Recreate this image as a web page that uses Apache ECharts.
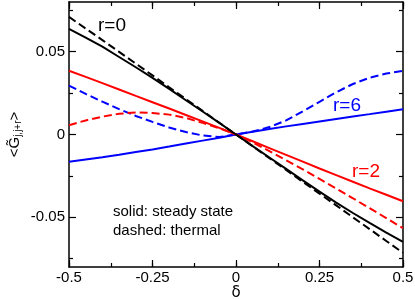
<!DOCTYPE html>
<html>
<head>
<meta charset="utf-8">
<script src="https://cdn.jsdelivr.net/npm/echarts@6/dist/echarts.min.js"></script>
<style>html,body{margin:0;padding:0;background:#fff;}#c{width:415px;height:299px;}</style>
</head>
<body>
<div id="c"></div>
<script>
var deltas = [-0.5,-0.45,-0.4,-0.35,-0.3,-0.25,-0.2,-0.15,-0.1,-0.05,0,0.05,0.1,0.15,0.2,0.25,0.3,0.35,0.4,0.45,0.5];
var r0Steady = [0.0638,0.0585,0.0530,0.0468,0.0406,0.0342,0.0275,0.0207,0.0139,0.0070,0,-0.0070,-0.0139,-0.0208,-0.0277,-0.0345,-0.0411,-0.0474,-0.0534,-0.0592,-0.0648];
var r0Thermal = [0.0710,0.0640,0.0570,0.0499,0.0428,0.0357,0.0285,0.0214,0.0143,0.0071,0,-0.0071,-0.0143,-0.0214,-0.0286,-0.0357,-0.0428,-0.0500,-0.0571,-0.0643,-0.0714];
var r2Steady = [0.0385,0.0348,0.0310,0.0272,0.0233,0.0195,0.0157,0.0118,0.0079,0.0040,0,-0.0041,-0.0082,-0.0123,-0.0164,-0.0205,-0.0245,-0.0285,-0.0325,-0.0364,-0.0403];
var r2Thermal = [0.0056,0.0085,0.0108,0.0125,0.0133,0.0130,0.0120,0.0100,0.0070,0.0038,0,-0.0048,-0.0100,-0.0155,-0.0210,-0.0268,-0.0326,-0.0385,-0.0445,-0.0505,-0.0566];
var r6Steady = [-0.0165,-0.0151,-0.0137,-0.0122,-0.0106,-0.0090,-0.0073,-0.0055,-0.0037,-0.0019,0,0.0017,0.0033,0.0049,0.0064,0.0079,0.0094,0.0109,0.0123,0.0138,0.0152];
var r6Thermal = [0.0295,0.0245,0.0198,0.0153,0.0112,0.0076,0.0042,0.0015,-0.0006,-0.0015,0,0.0018,0.0045,0.0085,0.0140,0.0197,0.0255,0.0305,0.0343,0.0368,0.0385];
var yMajorTicks = [-0.05,0,0.05];
var yMinorTicks = [-0.075,-0.025,0.025,0.075];

function pairs(ys){ return deltas.map(function(x,i){return [x, ys[i]];}); }
var FONT = 'Liberation Sans, Arial, sans-serif';
var chart = echarts.init(document.getElementById('c'));
function xAx(pos, interval, len, labels, line){
  return {type:'value', position:pos, min:-0.5, max:0.5, interval:interval,
    axisLine:{show:line, onZero:false, lineStyle:{color:'#000', width:1.5}},
    axisTick:{show:true, inside:true, length:len, lineStyle:{color:'#000', width:1.2}},
    axisLabel:{show:labels, color:'#000', fontSize:15, fontFamily:FONT, margin:3},
    splitLine:{show:false}};
}
function yAx(pos, ticks, len, labels, line){
  return {type:'value', position:pos, min:-0.08, max:0.08,
    axisLine:{show:line, onZero:false, lineStyle:{color:'#000', width:1.5}},
    axisTick:{show:true, inside:true, length:len, customValues:ticks, lineStyle:{color:'#000', width:1.2}},
    axisLabel:{show:labels, customValues:ticks, color:'#000', fontSize:15, fontFamily:FONT, margin:4},
    splitLine:{show:false}};
}
var xa = [xAx('bottom',0.25,7,true,true), xAx('bottom',0.125,4,false,false), xAx('top',0.25,7,false,true), xAx('top',0.125,4,false,false)];
xa[0].name = 'δ'; xa[0].nameLocation='middle'; xa[0].nameGap=19; xa[0].nameMoveOverlap=false;
xa[0].nameTextStyle = {color:'#000', fontSize:15, fontFamily:'DejaVu Sans', verticalAlign:'top'};
var ya = [yAx('left',yMajorTicks,7,true,true), yAx('left',yMinorTicks,4,false,false), yAx('right',yMajorTicks,7,false,true), yAx('right',yMinorTicks,4,false,false)];
ya[0].name = '{m|<G\u0303}{s|j,j+r}{m|>}';
ya[0].nameLocation='middle'; ya[0].nameRotate=90; ya[0].nameGap=46; ya[0].nameMoveOverlap=false;
ya[0].nameTextStyle = {color:'#000', fontFamily:FONT, rich:{m:{fontSize:15, fontFamily:FONT, color:'#000'}, s:{fontSize:10, fontFamily:FONT, color:'#000', verticalAlign:'bottom', padding:[6,0,0,0]}}};

function ser(data, color, dashed){
  return {type:'line', data:pairs(data), xAxisIndex:0, yAxisIndex:0, symbol:'none', silent:true,
    lineStyle:{color:color, width:2, type: dashed ? [8,4] : 'solid'}};
}
chart.setOption({
  animation:false,
  grid:{left:69, right:12, top:2, bottom:32, outerBoundsMode:'none', containLabel:false},
  xAxis:xa, yAxis:ya,
  series:[
    ser(r6Thermal,'#0000ff',true), ser(r6Steady,'#0000ff',false),
    ser(r2Thermal,'#ff0000',true), ser(r2Steady,'#ff0000',false),
    ser(r0Thermal,'#000000',true), ser(r0Steady,'#000000',false)
  ],
  graphic:[
    {type:'text', left:98, top:16, style:{text:'r=0', fill:'#000', font:'19px '+FONT}},
    {type:'text', left:333, top:96, style:{text:'r=6', fill:'#0000ff', font:'19px '+FONT}},
    {type:'text', left:352, top:162, style:{text:'r=2', fill:'#ff0000', font:'19px '+FONT}},
    {type:'text', left:113, top:204, style:{text:'solid: steady state', fill:'#000', font:'15px '+FONT}},
    {type:'text', left:113, top:223, style:{text:'dashed: thermal', fill:'#000', font:'15px '+FONT}}
  ]
});
</script>
</body>
</html>
